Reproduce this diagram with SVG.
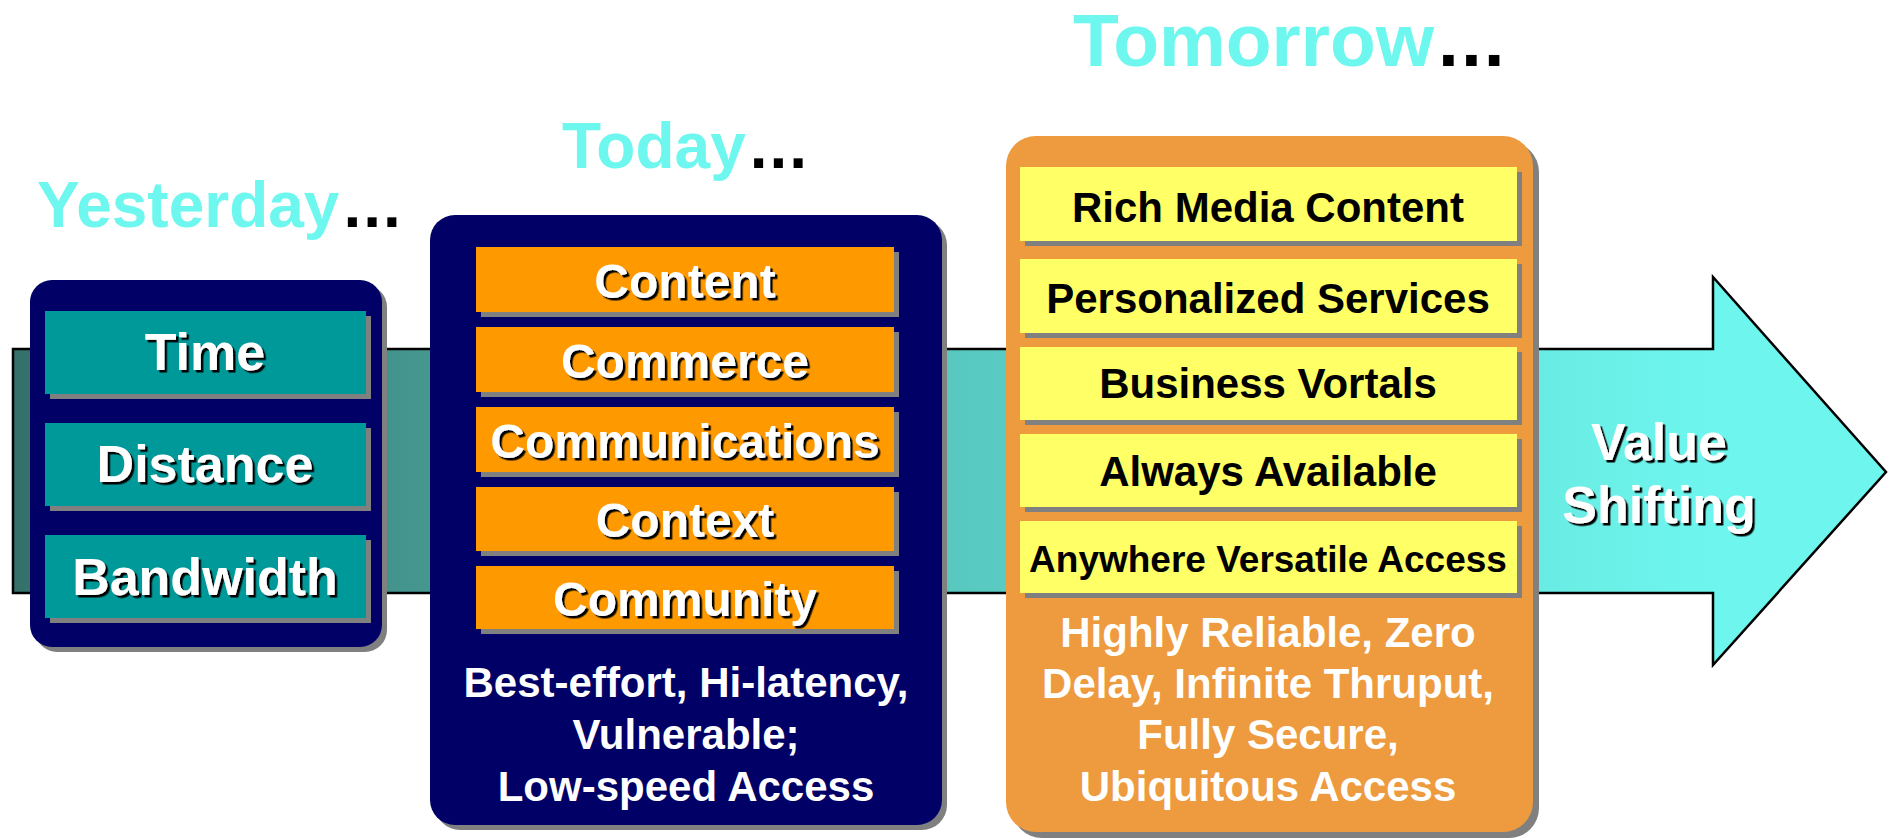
<svg xmlns="http://www.w3.org/2000/svg" width="1889" height="838" viewBox="0 0 1889 838">
  <defs>
    <linearGradient id="bandGrad" gradientUnits="userSpaceOnUse" x1="13" y1="0" x2="1713" y2="0">
      <stop offset="0" stop-color="#35706A"/>
      <stop offset="0.55" stop-color="#58C8BF"/>
      <stop offset="1" stop-color="#6EF6EE"/>
    </linearGradient>
    <filter id="ts" x="-10%" y="-20%" width="120%" height="140%">
      <feDropShadow dx="2.5" dy="2.5" stdDeviation="0" flood-color="#000000" flood-opacity="1"/>
    </filter>
  </defs>
  <style>
    text { font-family: "Liberation Sans", Arial, sans-serif; font-weight: bold; text-anchor: middle; }
    .shadow { fill: #808080; }
    .navy { fill: #000066; }
    .teal { fill: #009999; }
    .orange { fill: #FF9900; }
    .tomorrow { fill: #EE9A3E; }
    .yellow { fill: #FFFF66; }
    .wlabel { fill: #FFFFFF; filter: url(#ts); }
    .wplain { fill: #FFFFFF; }
    .blabel { fill: #000000; }
    .title { fill: #6EF7EF; text-anchor: start; }
    .dots { fill: #000000; letter-spacing: 2px; }
  </style>

  <rect width="1889" height="838" fill="#FFFFFF"/>

  <g id="connectors">
    <path id="value-arrow" d="M13,349 H1713 V277 L1886,472 L1713,665 V593 H13 Z" fill="url(#bandGrad)" stroke="#000000" stroke-width="2.5" stroke-linejoin="miter"/>
    <text class="wlabel" x="1659" y="460" font-size="52">Value</text>
    <text class="wlabel" x="1659" y="523" font-size="52">Shifting</text>
  </g>

  <g id="title-yesterday">
    <text class="title" x="37" y="227" font-size="64">Yesterday<tspan class="dots" dx="4">...</tspan></text>
  </g>
  <g id="title-today">
    <text class="title" x="562" y="168" font-size="64">Today<tspan class="dots" dx="4">...</tspan></text>
  </g>
  <g id="title-tomorrow">
    <text class="title" x="1073" y="66" font-size="75">Tomorrow<tspan class="dots" dx="4">...</tspan></text>
  </g>

  <g id="yesterday">
    <rect class="shadow" x="35" y="285" width="352" height="367" rx="22"/>
    <rect class="navy" x="30" y="280" width="352" height="367" rx="22"/>
    <g id="y-time">
      <rect class="shadow" x="50" y="316" width="321" height="83"/>
      <rect class="teal" x="45" y="311" width="321" height="83"/>
      <text class="wlabel" x="205" y="370" font-size="52">Time</text>
    </g>
    <g id="y-distance">
      <rect class="shadow" x="50" y="428" width="321" height="83"/>
      <rect class="teal" x="45" y="423" width="321" height="83"/>
      <text class="wlabel" x="205" y="482" font-size="52">Distance</text>
    </g>
    <g id="y-bandwidth">
      <rect class="shadow" x="50" y="540" width="321" height="83"/>
      <rect class="teal" x="45" y="535" width="321" height="83"/>
      <text class="wlabel" x="205" y="595" font-size="52">Bandwidth</text>
    </g>
  </g>

  <g id="today">
    <rect class="shadow" x="435" y="220" width="512" height="610" rx="25"/>
    <rect class="navy" x="430" y="215" width="512" height="610" rx="25"/>
    <g id="t-content">
      <rect class="shadow" x="481" y="252" width="418" height="65"/>
      <rect class="orange" x="476" y="247" width="418" height="65"/>
      <text class="wlabel" x="685" y="298" font-size="48">Content</text>
    </g>
    <g id="t-commerce">
      <rect class="shadow" x="481" y="332" width="418" height="65"/>
      <rect class="orange" x="476" y="327" width="418" height="65"/>
      <text class="wlabel" x="685" y="378" font-size="48">Commerce</text>
    </g>
    <g id="t-communications">
      <rect class="shadow" x="481" y="412" width="418" height="65"/>
      <rect class="orange" x="476" y="407" width="418" height="65"/>
      <text class="wlabel" x="685" y="458" font-size="48">Communications</text>
    </g>
    <g id="t-context">
      <rect class="shadow" x="481" y="492" width="418" height="64"/>
      <rect class="orange" x="476" y="487" width="418" height="64"/>
      <text class="wlabel" x="685" y="537" font-size="48">Context</text>
    </g>
    <g id="t-community">
      <rect class="shadow" x="481" y="571" width="418" height="63"/>
      <rect class="orange" x="476" y="566" width="418" height="63"/>
      <text class="wlabel" x="685" y="616" font-size="48">Community</text>
    </g>
    <text class="wplain" x="686" y="697" font-size="42">Best-effort, Hi-latency,</text>
    <text class="wplain" x="686" y="749" font-size="42">Vulnerable;</text>
    <text class="wplain" x="686" y="801" font-size="42">Low-speed Access</text>
  </g>

  <g id="tomorrow">
    <rect class="shadow" x="1012" y="142" width="527" height="696" rx="30"/>
    <rect class="tomorrow" x="1006" y="136" width="527" height="696" rx="30"/>
    <g id="m-rich">
      <rect class="shadow" x="1025" y="172" width="497" height="74"/>
      <rect class="yellow" x="1020" y="167" width="497" height="74"/>
      <text class="blabel" x="1268" y="222" font-size="42">Rich Media Content</text>
    </g>
    <g id="m-personalized">
      <rect class="shadow" x="1025" y="264" width="497" height="74"/>
      <rect class="yellow" x="1020" y="259" width="497" height="74"/>
      <text class="blabel" x="1268" y="313" font-size="42">Personalized Services</text>
    </g>
    <g id="m-vortals">
      <rect class="shadow" x="1025" y="352" width="497" height="73"/>
      <rect class="yellow" x="1020" y="347" width="497" height="73"/>
      <text class="blabel" x="1268" y="398" font-size="42">Business Vortals</text>
    </g>
    <g id="m-available">
      <rect class="shadow" x="1025" y="439" width="497" height="73"/>
      <rect class="yellow" x="1020" y="434" width="497" height="73"/>
      <text class="blabel" x="1268" y="486" font-size="42">Always Available</text>
    </g>
    <g id="m-anywhere">
      <rect class="shadow" x="1025" y="526" width="497" height="72"/>
      <rect class="yellow" x="1020" y="521" width="497" height="72"/>
      <text class="blabel" x="1268" y="572" font-size="37">Anywhere Versatile Access</text>
    </g>
    <text class="wplain" x="1268" y="647" font-size="42">Highly Reliable, Zero</text>
    <text class="wplain" x="1268" y="698" font-size="42">Delay, Infinite Thruput,</text>
    <text class="wplain" x="1268" y="749" font-size="42">Fully Secure,</text>
    <text class="wplain" x="1268" y="801" font-size="42">Ubiquitous Access</text>
  </g>
</svg>
